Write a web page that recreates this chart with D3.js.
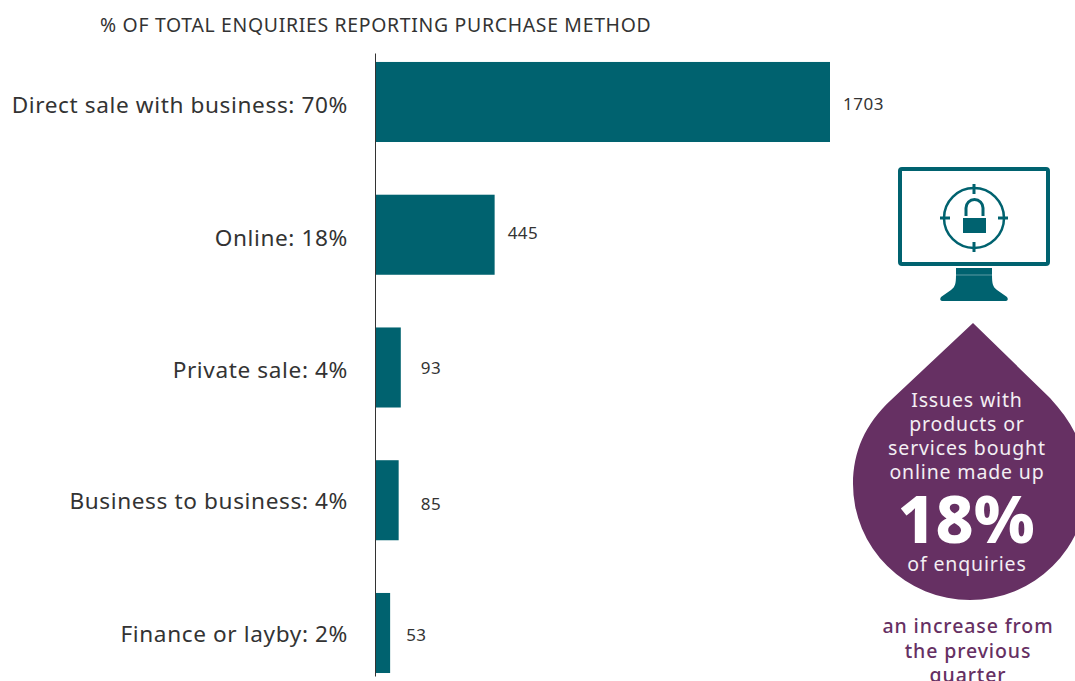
<!DOCTYPE html>
<html>
<head>
<meta charset="utf-8">
<script src="https://cdnjs.cloudflare.com/ajax/libs/d3/7.8.5/d3.min.js"></script>
<style>
  html, body { margin: 0; padding: 0; background: #fff; overflow: hidden; }
  text { font-family: "Noto Sans", sans-serif; }
</style>
</head>
<body>
<svg id="chart" width="1075" height="681"></svg>
<script>
const categories = ["Direct sale with business: 70%", "Online: 18%", "Private sale: 4%", "Business to business: 4%", "Finance or layby: 2%"];
const enquiries = [1703, 445, 93, 85, 53];
const chartTitle = "% OF TOTAL ENQUIRIES REPORTING PURCHASE METHOD";
const dropLines = ["Issues with", "products or", "services bought", "online made up"];
const dropFigure = "18%";
const dropTail = "of enquiries";
const noteLines = ["an increase from", "the previous", "quarter"];

const teal = "#00626f";
const purple = "#663063";
const ink = "#333333";

// Hand-placed label offsets, one per row
const categoryShift = [-1, -1, -2, -4, -3];
const valueGapX = [13, 13, 20, 22, 16];
const valueShiftY = [0, -4, -1, 2, 0];

const svg = d3.select("#chart");

const x = d3.scaleLinear().domain([0, 1703]).range([376, 830]);
const y = d3.scaleBand().domain(categories).range([53, 676])
  .paddingInner(0.397).paddingOuter(0.045).align(0.75);

svg.append("text").attr("x", 100).attr("y", 32)
  .attr("font-size", 19.4).attr("letter-spacing", 0.7).attr("fill", ink).text(chartTitle);

// Category axis: a thin rule with the labels to its left
const axis = svg.append("g").attr("transform", "translate(375,0)")
  .call(d3.axisLeft(y).tickSize(0).tickPadding(27));
axis.select(".domain").attr("stroke", "#333").attr("stroke-width", 1);
axis.selectAll("text")
  .attr("font-size", 22.6).attr("letter-spacing", 0.62).attr("fill", ink)
  .style("font-family", '"Noto Sans", sans-serif')
  .attr("dy", "0.55em")
  .attr("y", (d, i) => categoryShift[i]);

const rows = categories.map((c, i) => ({ c, v: enquiries[i], i }));

svg.append("g").selectAll("rect").data(rows).join("rect")
  .attr("x", x(0)).attr("y", d => y(d.c))
  .attr("width", d => x(d.v) - x(0)).attr("height", y.bandwidth())
  .attr("fill", teal);

svg.append("g").selectAll("text").data(rows).join("text")
  .attr("x", d => x(d.v) + valueGapX[d.i])
  .attr("y", d => y(d.c) + y.bandwidth() / 2 + 8 + valueShiftY[d.i])
  .attr("font-size", 17).attr("letter-spacing", 0.5).attr("fill", ink)
  .text(d => d.v);

// Monitor with padlock and target ring
const icon = svg.append("g");
icon.append("rect").attr("x", 900).attr("y", 169).attr("width", 148).attr("height", 95).attr("rx", 2)
  .attr("fill", "none").attr("stroke", teal).attr("stroke-width", 4);
icon.append("path").attr("fill", teal)
  .attr("d", "M956 268H992V275H992C992 284 993 287 997 290L1007 297Q1009 300 1006 301H942Q939 300 941 297L951 290C955 287 956 284 956 275Z");
icon.append("rect").attr("x", 956).attr("y", 274.6).attr("width", 36).attr("height", 0.8).attr("fill", "#fff").attr("opacity", 0.45);
icon.append("circle").attr("cx", 974).attr("cy", 218).attr("r", 30)
  .attr("fill", "none").attr("stroke", teal).attr("stroke-width", 2.5);
const ticks = [[974, 184, 974, 194], [974, 242, 974, 252], [940, 218, 950, 218], [998, 218, 1008, 218]];
icon.selectAll("line").data(ticks).join("line")
  .attr("x1", d => d[0]).attr("y1", d => d[1]).attr("x2", d => d[2]).attr("y2", d => d[3])
  .attr("stroke", teal).attr("stroke-width", 3);
icon.append("rect").attr("x", 963).attr("y", 218).attr("width", 23).attr("height", 15).attr("fill", teal);
icon.append("path").attr("d", "M966 216V208A8.5 8.5 0 0 1 983 208V216")
  .attr("fill", "none").attr("stroke", teal).attr("stroke-width", 3);

// Droplet callout
svg.append("path").attr("fill", purple)
  .attr("d", "M973 323L1050 398C1075 425 1087 452 1087 484A117 116 0 0 1 853 484C853 452 865 424 891 400Z");

const dropText = svg.append("g").attr("text-anchor", "middle").attr("fill", "#fff");
dropText.selectAll("text.line").data(dropLines).join("text").attr("class", "line")
  .attr("x", 967).attr("y", (d, i) => 407 + i * 24)
  .attr("font-size", 19.5).attr("letter-spacing", 0.85).attr("fill", "#f3eef3").text(d => d);
dropText.append("text").attr("x", 966).attr("y", 543)
  .attr("font-size", 66).attr("font-weight", 800).text(dropFigure);
dropText.append("text").attr("x", 967).attr("y", 571)
  .attr("font-size", 19.5).attr("letter-spacing", 0.85).attr("fill", "#f3eef3").text(dropTail);

svg.append("g").attr("text-anchor", "middle").selectAll("text").data(noteLines).join("text")
  .attr("x", 968).attr("y", (d, i) => 633 + i * 24.5)
  .attr("font-size", 19.5).attr("letter-spacing", 0.9).attr("font-weight", 500).attr("fill", purple).text(d => d);
</script>
</body>
</html>
